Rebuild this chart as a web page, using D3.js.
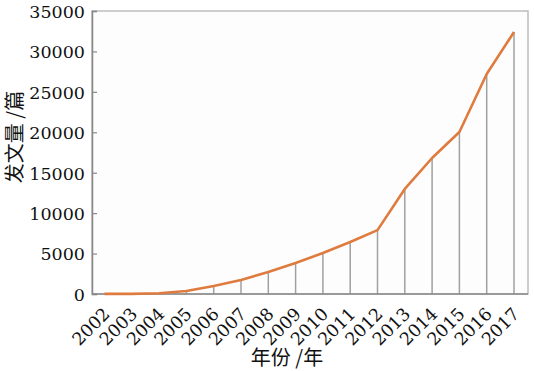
<!DOCTYPE html>
<html>
<head>
<meta charset="utf-8">
<script src="https://cdn.jsdelivr.net/npm/d3@7"></script>
<style>
  body { margin: 0; background: #fff; }
</style>
</head>
<body>
<svg id="chart" width="534" height="371"></svg>
<script>
const years = ['2002', '2003', '2004', '2005', '2006', '2007', '2008', '2009',
  '2010', '2011', '2012', '2013', '2014', '2015', '2016', '2017'];
const papers = [10, 20, 100, 370, 990, 1730, 2720, 3830,
  5070, 6430, 7900, 12990, 16820, 20040, 27200, 32400];
const yTicks = [0, 5000, 10000, 15000, 20000, 25000, 30000, 35000];

const WIDTH = 534;
const HEIGHT = 371;
const margin = {top: 11, right: 6, bottom: 77, left: 92},
  width = WIDTH - margin.left - margin.right,
  height = HEIGHT - margin.top - margin.bottom;
const serif = 'DejaVu Serif';
const cjk = 'Noto Sans CJK SC';

const svg = d3.select('#chart')
  .append('g')
  .attr('transform', `translate(${margin.left},${margin.top})`);

// x: point scale, first year a bit right of the axis
const x = d3.scalePoint()
  .domain(years)
  .range([12.5, 422]);

const y = d3.scaleLinear()
  .domain([0, 35000])
  .range([height, 0]);

// frame
svg.append('rect')
  .attr('width', width)
  .attr('height', height)
  .attr('fill', '#fdfdfd')
  .attr('stroke', '#bdbdbd')
  .attr('stroke-width', 1.5);

// drop lines
svg.selectAll('.drop')
  .data(years)
  .join('line')
  .attr('class', 'drop')
  .attr('x1', d => x(d))
  .attr('x2', d => x(d))
  .attr('y1', y(0))
  .attr('y2', (d, i) => y(papers[i]))
  .attr('stroke', '#a0a0a0')
  .attr('stroke-width', 1.5);

// y axis
const yAxis = svg.append('g')
  .call(d3.axisLeft(y).tickValues(yTicks).tickSize(-5).tickPadding(7).tickFormat(d3.format('d')));
yAxis.attr('font-family', serif).attr('font-size', 17.5);
yAxis.select('.domain').attr('stroke', '#888').attr('stroke-width', 1.5);
yAxis.selectAll('.tick line').attr('stroke', '#888').attr('stroke-width', 1.2);
yAxis.selectAll('text')
  .attr('fill', '#111')
  .attr('dy', '0.36em');

// x axis
const xAxis = svg.append('g')
  .attr('transform', `translate(0,${height})`)
  .call(d3.axisBottom(x).tickSize(0).tickPadding(0));
xAxis.attr('font-family', serif).attr('font-size', 17.5);
xAxis.select('.domain').attr('stroke', '#888').attr('stroke-width', 1.5)
  .attr('d', `M0,0H${width}`);
xAxis.selectAll('text')
  .style('text-anchor', 'end')
  .attr('fill', '#111')
  .attr('dy', null)
  .attr('y', 0)
  .attr('transform', 'translate(6,21) rotate(-45)');

// line
svg.append('path')
  .datum(papers)
  .attr('fill', 'none')
  .attr('stroke', '#df7b3e')
  .attr('stroke-width', 2.6)
  .attr('stroke-linejoin', 'round')
  .attr('d', d3.line()
    .x((d, i) => x(years[i]))
    .y(d => y(d)));

// axis titles
d3.select('#chart').append('text')
  .attr('transform', 'translate(22,137) rotate(-90)')
  .attr('text-anchor', 'middle')
  .attr('font-family', cjk)
  .attr('font-size', 20)
  .attr('fill', '#111')
  .text('发文量 /篇');

d3.select('#chart').append('text')
  .attr('x', 287)
  .attr('y', 365)
  .attr('text-anchor', 'middle')
  .attr('font-family', cjk)
  .attr('font-size', 20)
  .attr('fill', '#111')
  .text('年份 /年');
</script>
</body>
</html>
